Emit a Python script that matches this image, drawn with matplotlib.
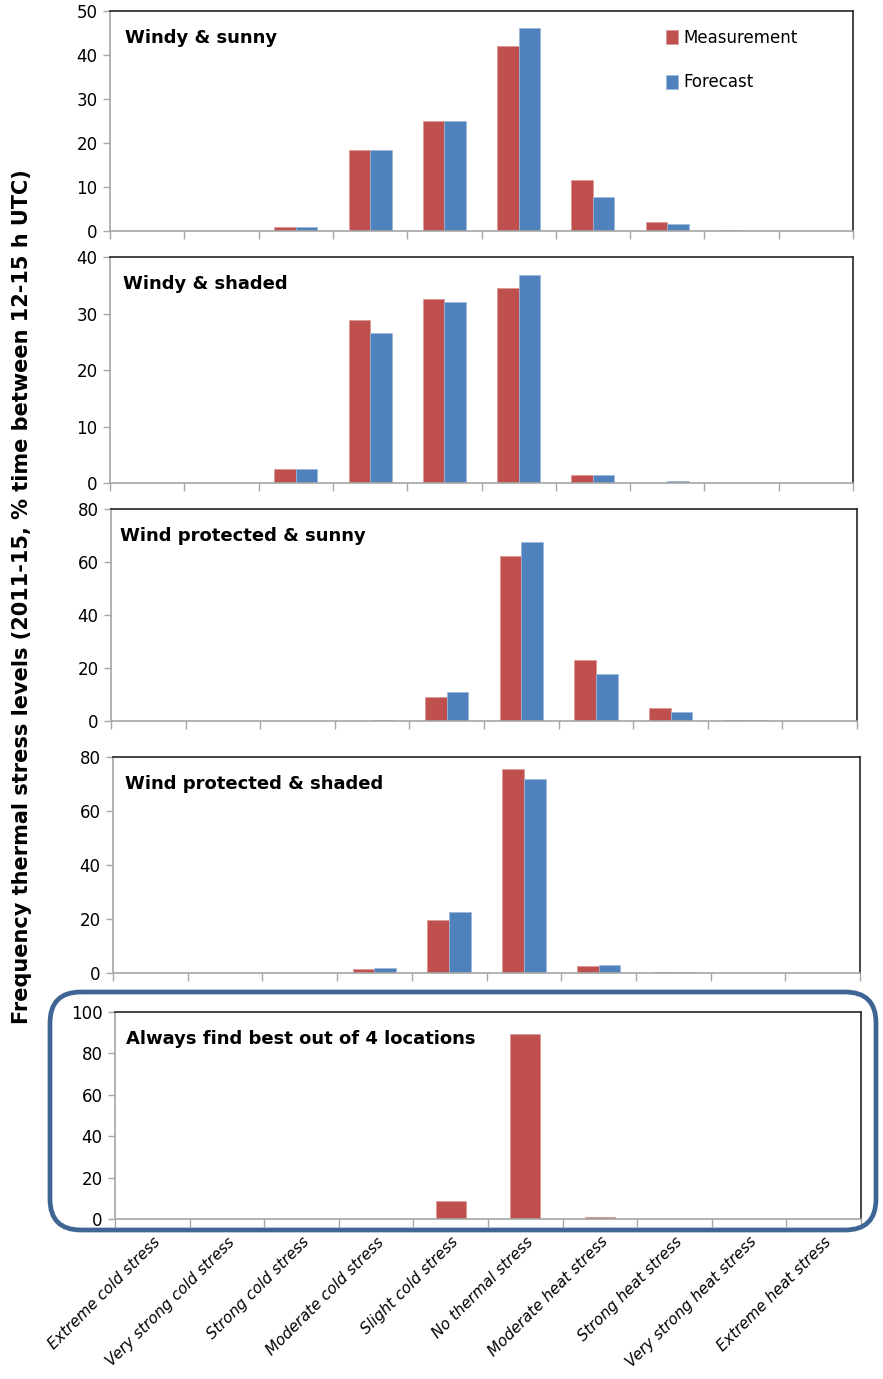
import numpy as np
import matplotlib
matplotlib.use("Agg")
import matplotlib.pyplot as plt
from matplotlib.patches import FancyBboxPatch

W, H = 883, 1379

categories = ["Extreme cold stress", "Very strong cold stress", "Strong cold stress",
              "Moderate cold stress", "Slight cold stress", "No thermal stress",
              "Moderate heat stress", "Strong heat stress", "Very strong heat stress",
              "Extreme heat stress"]

titles = ["Windy & sunny", "Windy & shaded", "Wind protected & sunny",
          "Wind protected & shaded", "Always find best out of 4 locations"]

# measurement / forecast (% of time)
meas_windy_sunny = [0, 0, 0.9, 18.3, 25.0, 42.0, 11.6, 2.0, 0.2, 0]
fc_windy_sunny = [0, 0, 0.9, 18.3, 25.0, 46.2, 7.8, 1.5, 0, 0]
meas_windy_shaded = [0, 0, 2.5, 28.9, 32.5, 34.6, 1.4, 0, 0, 0]
fc_windy_shaded = [0, 0, 2.5, 26.5, 32.1, 36.8, 1.4, 0.4, 0, 0]
meas_prot_sunny = [0, 0, 0, 0, 9.1, 62.1, 23.1, 5.0, 0.2, 0]
fc_prot_sunny = [0, 0, 0, 0.2, 10.9, 67.4, 17.9, 3.3, 0.2, 0]
meas_prot_shaded = [0, 0, 0, 1.4, 19.6, 75.7, 2.5, 0.2, 0, 0]
fc_prot_shaded = [0, 0, 0, 2.0, 22.5, 71.7, 3.1, 0.2, 0, 0]
meas_best = [0, 0, 0, 0, 8.7, 89.2, 1.1, 0, 0, 0]

measurements = [meas_windy_sunny, meas_windy_shaded, meas_prot_sunny, meas_prot_shaded, meas_best]
forecasts = [fc_windy_sunny, fc_windy_shaded, fc_prot_sunny, fc_prot_shaded, None]
ymaxes = [50, 40, 80, 80, 100]
ysteps = [10, 10, 20, 20, 20]

red = "#C0504D"
blue = "#4F81BD"
grey = "#A6A6A6"

# panel boxes in pixels: left, right, top, bottom
boxes = [(110, 853, 11, 231), (110, 853, 257, 483), (111, 857, 509, 721),
         (113, 860, 757, 973), (115, 861, 1012, 1219)]
title_x = [125, 123, 120, 125, 126]

fig = plt.figure(figsize=(W / 100, H / 100), dpi=100)
plt.rcParams['font.family'] = ['DejaVu Sans']

x = np.arange(len(categories))
axes = []
for i, (l, r, t, b) in enumerate(boxes):
    ax = fig.add_axes([l / W, 1 - b / H, (r - l) / W, (b - t) / H])
    axes.append(ax)
    if forecasts[i] is not None:
        bw = 0.29
        ax.bar(x - bw / 2, measurements[i], bw, color=red, edgecolor="#D99795", lw=0.5,
               label="Measurement")
        ax.bar(x + bw / 2, forecasts[i], bw, color=blue, edgecolor="#9DB7DA", lw=0.5,
               label="Forecast")
    else:
        ax.bar(x, measurements[i], 0.4, color=red, edgecolor="#D99795", lw=0.5)
    ax.set_xlim(-0.5, len(categories) - 0.5)
    ax.set_ylim(0, ymaxes[i])
    ax.set_yticks(np.arange(0, ymaxes[i] + 1, ysteps[i]))
    ax.set_xticks(np.arange(-0.5, len(categories), 1.0))
    ax.set_xticklabels([])
    ax.set_xticks(x, minor=True)
    ax.tick_params(axis="x", which="major", direction="out", length=6, color=grey, width=1)
    ax.tick_params(axis="x", which="minor", length=0)
    ax.tick_params(axis="y", direction="out", length=5, color=grey, width=1,
                   labelsize=12, pad=4)
    for s in ["left", "bottom"]:
        ax.spines[s].set_color(grey)
        ax.spines[s].set_linewidth(1.2)
    for s in ["top", "right"]:
        ax.spines[s].set_color("#262626")
        ax.spines[s].set_linewidth(1.2)
    ax.text((title_x[i] - l) / (r - l), 1 - 27 / (b - t), titles[i], transform=ax.transAxes,
            fontsize=13, fontweight="bold", ha="left", va="center")

# category labels on the bottom panel
ax = axes[-1]
ax.set_xticks(x, minor=True)
ax.set_xticklabels(categories, minor=True, rotation=45, ha="right",
                   rotation_mode="anchor", fontsize=11, style="italic")
ax.tick_params(axis="x", which="minor", length=0, pad=11)

axes[0].legend(loc="upper left", bbox_to_anchor=(0.74, 0.95), frameon=False,
               fontsize=12, handlelength=0.7, handleheight=0.9, handletextpad=0.3,
               labelspacing=1.6, borderaxespad=0)

fig.text(22 / W, 1 - 597 / H,
         "Frequency thermal stress levels (2011-15, % time between 12-15 h UTC)",
         rotation=90, ha="center", va="center", fontsize=15, fontweight="bold")

box = FancyBboxPatch((50 / W, 1 - 1230 / H), (876 - 50) / W, (1230 - 992) / H,
                     boxstyle="round,pad=0,rounding_size=0.035",
                     transform=fig.transFigure, fill=False, edgecolor="#3E6593",
                     lw=3.4, mutation_aspect=W / H, zorder=5)
fig.patches.append(box)

fig.savefig("out.png", dpi=100)
